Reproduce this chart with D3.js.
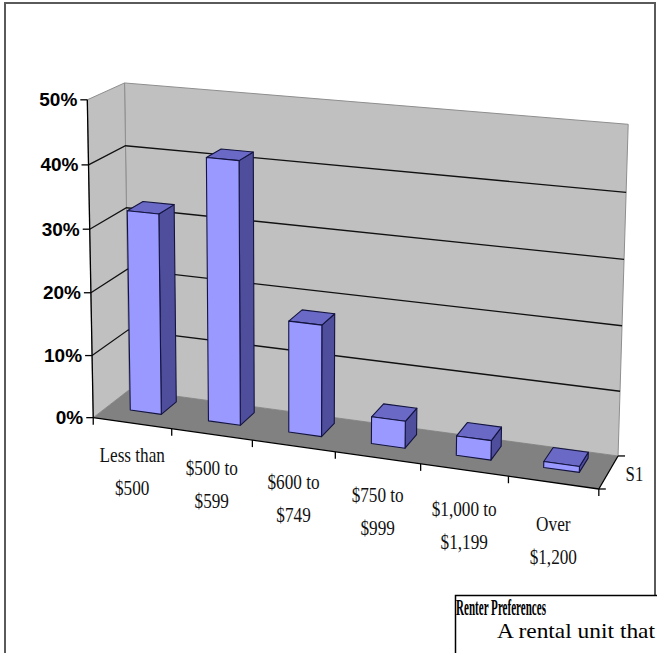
<!DOCTYPE html>
<html><head><meta charset="utf-8">
<script src="https://cdn.jsdelivr.net/npm/d3@7"></script>
<style>html,body{margin:0;padding:0;background:#fff;overflow:hidden}</style>
</head><body><svg id="chart" width="657" height="653"></svg>
<script>
// ---------- data ----------
const categories = [["Less than","$500"],["$500 to","$599"],["$600 to","$749"],["$750 to","$999"],["$1,000 to","$1,199"],["Over","$1,200"]];
const values = [0.32, 0.415, 0.175, 0.042, 0.03, 0.009];
const seriesNames = ["S1"];
const valueTicks = [0, 0.1, 0.2, 0.3, 0.4, 0.5];
const noteTitle = "Renter Preferences";
const noteLines = ["A rental unit that"];

// ---------- 3D box calibration (world X 0..1, Y 0..1, Z 0 front..1 back -> screen) ----------
const calib = [
  [0,0,0,95,418],[1,0,0,600,491],[1,0,1,620,453],[0,0,1,127,390],
  [0,1,1,126,82],[1,1,1,629,123],[0,1,0,86,99],
  [0,.8,1,127,145],[1,.8,1,625,193],[0,.6,1,127,210],[1,.6,1,623,261],
  [0,.4,1,127,269],[1,.4,1,622,327],[0,.2,1,127,331],[1,.2,1,620,390],
  [0,.8,0,88,167],[0,.6,0,89,228],[0,.4,0,91,292],[0,.2,0,93,354],
  [1/6,0,0,172,null],[2/6,0,0,252,null],[3/6,0,0,337,null],[4/6,0,0,420,null],[5/6,0,0,506,null]
];
function fitCamera(pts){
  const cu=350, cv=300, sc=300, n=11;
  const A=[], b=[];
  pts.forEach(([X,Y,Z,u,v])=>{
    if(u!=null){const U=(u-cu)/sc; A.push([X,Y,Z,1,0,0,0,0,-U*X,-U*Y,-U*Z]); b.push(U);}
    if(v!=null){const V=(v-cv)/sc; A.push([0,0,0,0,X,Y,Z,1,-V*X,-V*Y,-V*Z]); b.push(V);}
  });
  const M=Array.from({length:n},()=>new Array(n+1).fill(0));
  for(let r=0;r<A.length;r++) for(let i=0;i<n;i++){ for(let j=0;j<n;j++) M[i][j]+=A[r][i]*A[r][j]; M[i][n]+=A[r][i]*b[r]; }
  for(let c=0;c<n;c++){
    let p=c; for(let r=c+1;r<n;r++) if(Math.abs(M[r][c])>Math.abs(M[p][c])) p=r;
    [M[c],M[p]]=[M[p],M[c]];
    for(let r=0;r<n;r++) if(r!==c){ const f=M[r][c]/M[c][c]; for(let j=c;j<=n;j++) M[r][j]-=f*M[c][j]; }
  }
  const q=M.map((row,i)=>row[n]/row[i]);
  return (X,Y,Z)=>{ const w=q[8]*X+q[9]*Y+q[10]*Z+1;
    return [(q[0]*X+q[1]*Y+q[2]*Z+q[3])/w*sc+cu, (q[4]*X+q[5]*Y+q[6]*Z+q[7])/w*sc+cv]; };
}
const P = fitCamera(calib);

// ---------- scales ----------
const x = d3.scaleBand().domain(d3.range(categories.length)).range([0,1]).paddingInner(0.6).paddingOuter(0.3);
const xEdge = d3.scaleLinear().domain([0,categories.length]).range([0,1]);
const y = d3.scaleLinear().domain([0,0.5]).range([0,1]);
const z = d3.scaleBand().domain(seriesNames).range([0.38,0.82]);

const svg = d3.select("#chart");
const line = d3.line();
const poly = pts => line(pts.map(p=>P(...p)))+"Z";

// frame
svg.append("rect").attr("x",5).attr("y",3).attr("width",650).attr("height",700)
  .attr("fill","#fff").attr("stroke","#5a5a5a").attr("stroke-width",2);

// walls & floor
const g3 = svg.append("g");
g3.append("path").attr("d",poly([[0,0,1],[1,0,1],[1,1,1],[0,1,1]])).attr("fill","#c0c0c0").attr("stroke","#8e8e8e").attr("stroke-width",1);
g3.append("path").attr("d",poly([[0,0,0],[0,0,1],[0,1,1],[0,1,0]])).attr("fill","#c0c0c0").attr("stroke","#8e8e8e").attr("stroke-width",1);
g3.append("path").attr("d",poly([[0,0,0],[1,0,0],[1,0,1],[0,0,1]])).attr("fill","#818181").attr("stroke","none");

// gridlines
valueTicks.filter(t=>t>0 && t<0.5).forEach(t=>{
  const Y=y(t);
  g3.append("path").attr("d",line([P(0,Y,0),P(0,Y,1),P(1,Y,1)]))
    .attr("fill","none").attr("stroke","#111").attr("stroke-width",1.3);
});

// bars
const bw = x.bandwidth(), z0 = z(seriesNames[0]), z1 = z0 + z.bandwidth();
const bars = g3.append("g").selectAll("g").data(values).join("g");
bars.each(function(v,i){
  const g=d3.select(this), x0=x(i), x1=x0+bw, Y=y(v);
  const st = s=>s.attr("stroke","#141440").attr("stroke-width",1.1).attr("stroke-linejoin","round");
  st(g.append("path").attr("d",poly([[x1,0,z0],[x1,0,z1],[x1,Y,z1],[x1,Y,z0]])).attr("fill","#4e4e9c"));
  st(g.append("path").attr("d",poly([[x0,Y,z0],[x1,Y,z0],[x1,Y,z1],[x0,Y,z1]])).attr("fill","#6a6ac6"));
  st(g.append("path").attr("d",poly([[x0,0,z0],[x1,0,z0],[x1,Y,z0],[x0,Y,z0]])).attr("fill","#9999ff"));
});

// value axis
const axC="#000";
svg.append("path").attr("d",line([P(0,0,0),P(0,1,0)])).attr("stroke",axC).attr("stroke-width",1.3);
valueTicks.forEach(t=>{
  const p=P(0,y(t),0);
  svg.append("line").attr("x1",p[0]).attr("y1",p[1]).attr("x2",p[0]-7).attr("y2",p[1]).attr("stroke",axC).attr("stroke-width",1.3);
  svg.append("text").attr("x",p[0]-10).attr("y",p[1]).attr("text-anchor","end").attr("dominant-baseline","central")
    .attr("font-family","'Liberation Sans',Arial,sans-serif").attr("font-weight","bold").attr("font-size",19)
    .text(d3.format(".0%")(t));
});

// category axis
svg.append("path").attr("d",line([P(0,0,0),P(1,0,0)])).attr("stroke",axC).attr("stroke-width",1.3);
d3.range(categories.length+1).forEach(k=>{
  const p=P(xEdge(k),0,0);
  svg.append("line").attr("x1",p[0]).attr("y1",p[1]).attr("x2",p[0]).attr("y2",p[1]+7).attr("stroke",axC).attr("stroke-width",1.3);
});
categories.forEach((lines,i)=>{
  const X = x(i)+bw/2, p=P(X,0,0), dy = 31+11*X;
  lines.forEach((s,j)=>{
    svg.append("text").attr("transform",`translate(${p[0]},${p[1]+dy+j*33}) scale(0.82,1)`)
      .attr("text-anchor","middle").attr("dominant-baseline","central")
      .attr("font-family","'Liberation Serif','Times New Roman',serif").attr("font-size",21).attr("fill","#111")
      .text(s);
  });
});

// depth (series) axis
svg.append("path").attr("d",line([P(1,0,0),P(1,0,1)])).attr("stroke",axC).attr("stroke-width",1.3);
[0,1].forEach(Z=>{ const p=P(1,0,Z);
  svg.append("line").attr("x1",p[0]).attr("y1",p[1]).attr("x2",p[0]+7).attr("y2",p[1]).attr("stroke",axC).attr("stroke-width",1.3); });
{ const p=P(1,0,(z0+z1)/2);
  svg.append("text").attr("transform",`translate(${p[0]+15},${p[1]+5}) scale(0.8,1)`)
    .attr("dominant-baseline","central").attr("font-family","'Liberation Serif','Times New Roman',serif")
    .attr("font-size",21).attr("fill","#111").text(seriesNames[0]); }

// note box
svg.append("rect").attr("x",455.5).attr("y",595.5).attr("width",220).attr("height",80)
  .attr("fill","#fff").attr("stroke","#000").attr("stroke-width",1.5);
svg.append("text").attr("x",456).attr("y",615).attr("font-family","'Liberation Serif','Times New Roman',serif")
  .attr("font-weight","bold").attr("font-size",24).attr("textLength",90).attr("lengthAdjust","spacingAndGlyphs").text(noteTitle);
noteLines.forEach((s,i)=>svg.append("text").attr("x",497).attr("y",638+i*24)
  .attr("font-family","'Liberation Serif','Times New Roman',serif").attr("font-size",21)
  .attr("textLength",158).attr("lengthAdjust","spacingAndGlyphs").text(s));
</script></body></html>
